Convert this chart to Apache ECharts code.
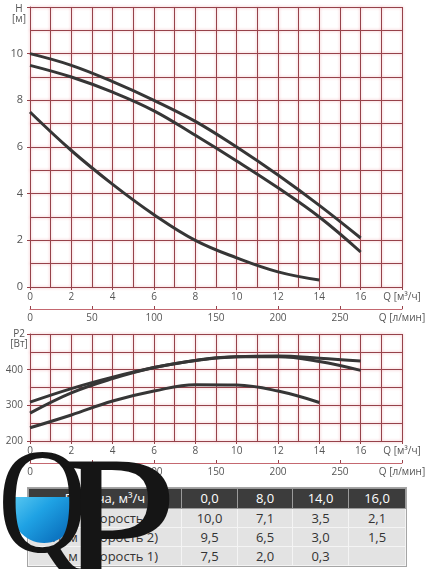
<!DOCTYPE html>
<html>
<head>
<meta charset="utf-8">
<script src="https://cdn.jsdelivr.net/npm/echarts@6/dist/echarts.min.js"></script>
<style>
html, body { margin: 0; padding: 0; background: #fff; }
#wrap { position: relative; width: 432px; height: 569px; overflow: hidden; }
#chart { position: absolute; left: 0; top: 0; width: 432px; height: 569px; z-index: 2; }
#tbl { position: absolute; left: 28px; top: 488px; z-index: 1; border-collapse: collapse;
  font-family: 'Open Sans', sans-serif; font-size: 13px; color: #333; outline: 1px solid #a5a5a5; }
#tbl td { border: 1px solid #f4f4f4; text-align: center; padding: 0; background: #e3e3e3; height: 18px; line-height: 17px; }
#tbl tr.head td { background: #3c3c3c; color: #fff; border-color: #9a9a9a; height: 19px; }
</style>
</head>
<body>
<div id="wrap">
  <table id="tbl"></table>
  <div id="chart"></div>
</div>
<script>
// Q-H curves, m3/h -> m
var flowH = [0, 2, 4, 6, 8, 10, 12, 14, 16];
var headSpeed3 = [10.0, 9.5, 8.8, 8.0, 7.1, 6.0, 4.8, 3.5, 2.1];
var headSpeed2 = [9.5, 9.0, 8.35, 7.55, 6.5, 5.4, 4.25, 3.0, 1.5];
var flowH1 = [0, 2, 4, 6, 8, 10, 12, 14];
var headSpeed1 = [7.5, 5.85, 4.4, 3.1, 2.0, 1.25, 0.65, 0.3];

// Q-P2 curves, m3/h -> W
var flowP = [0, 2, 4, 6, 8, 10, 12, 14, 16];
var powerSpeed3 = [309, 347, 379, 406, 426, 436, 438, 432, 424];
var powerSpeed2 = [278, 335, 375, 406, 426, 436, 436, 423, 398];
var flowP1 = [0, 2, 4, 6, 8, 10, 12, 14];
var powerSpeed1 = [237, 273, 312, 340, 358, 357, 340, 308];

// table
var tableHead = ['Подача, м³/ч', '0,0', '8,0', '14,0', '16,0'];
var rowSpeed3 = ['Н, м (Скорость 3)', '10,0', '7,1', '3,5', '2,1'];
var rowSpeed2 = ['Н, м (Скорость 2)', '9,5', '6,5', '3,0', '1,5'];
var rowSpeed1 = ['Н, м (Скорость 1)', '7,5', '2,0', '0,3', ''];
var colWidths = [152, 55, 54, 55, 56];

var tbl = document.getElementById('tbl');
[tableHead, rowSpeed3, rowSpeed2, rowSpeed1].forEach(function(row, i) {
	var tr = document.createElement('tr');
	if (i === 0) tr.className = 'head';
	row.forEach(function(txt, j) {
		var td = document.createElement('td');
		td.style.width = colWidths[j] + 'px';
		td.textContent = txt;
		tr.appendChild(td);
	});
	tbl.appendChild(tr);
});

function pairs(xs, ys) {
	return xs.map(function(x, i) { return [x, ys[i]]; });
}

var gridColor = '#96424a';
var font = 'Open Sans';
var gridLine = { color: gridColor, width: 1, shadowColor: 'rgba(225,110,120,0.6)', shadowBlur: 3 };

function m3Axis(gi) {
	return {
		type: 'value', gridIndex: gi, min: 0, max: 18, interval: 2, position: 'bottom',
		axisLine: { show: true, lineStyle: { color: gridColor } },
		axisTick: { show: true, length: 3, lineStyle: { color: gridColor } },
		axisLabel: { margin: 5, color: '#555', fontSize: 10, fontFamily: font, showMaxLabel: true,
			formatter: function(v) { return v === 18 ? 'Q [м³/ч]' : String(v); } },
		splitLine: { show: true, lineStyle: gridLine },
		minorTick: { show: false, splitNumber: 2 },
		minorSplitLine: { show: true, lineStyle: gridLine }
	};
}
function lminAxis(gi) {
	return {
		type: 'value', gridIndex: gi, min: 0, max: 300, interval: 50, position: 'bottom', offset: 22,
		axisLine: { show: true, lineStyle: { color: '#c46870' } },
		axisTick: { show: true, inside: true, length: 3, lineStyle: { color: gridColor } },
		axisLabel: { margin: 4, color: '#555', fontSize: 10, fontFamily: font, showMaxLabel: true,
			formatter: function(v) { return v === 300 ? 'Q [л/мин]' : String(v); } },
		splitLine: { show: false }
	};
}
function yAxis(gi, min, max, step, fs, name, gap) {
	return {
		type: 'value', gridIndex: gi, min: min, max: max, interval: step,
		axisLine: { show: true, lineStyle: { color: gridColor } },
		axisTick: { show: true, length: 3, lineStyle: { color: gridColor } },
		axisLabel: { margin: 7, color: '#555', fontSize: fs, fontFamily: font,
			formatter: function(v) { return v === max ? '' : String(v); } },
		splitLine: { show: true, lineStyle: gridLine },
		minorTick: { show: false, splitNumber: 2 },
		minorSplitLine: { show: true, lineStyle: gridLine },
		name: name, nameLocation: 'end', nameGap: gap,
		nameTextStyle: { color: '#555', fontSize: 10, fontFamily: font, lineHeight: 10,
			align: 'center', verticalAlign: 'top', padding: [0, 22, 0, 0] }
	};
}
function curve(xi, yi, xs, ys) {
	return {
		type: 'line', xAxisIndex: xi, yAxisIndex: yi, data: pairs(xs, ys),
		smooth: 0.4, symbol: 'none', silent: true,
		lineStyle: { color: '#363636', width: 3 }
	};
}

// water inside the logo Q
var water = [];
for (var a = -12; a <= 192; a += 6) {
	var t = a * Math.PI / 180;
	var py = 505 + 38 * Math.sin(t);
	if (py >= 490) water.push([44 + 34 * Math.cos(t), py]);
}

var chart = echarts.init(document.getElementById('chart'));
chart.setOption({
	animation: false,
	grid: [
		{ left: 30, right: 30, top: 7, height: 280 },
		{ left: 30, right: 30, top: 334, height: 107 }
	],
	xAxis: [m3Axis(0), lminAxis(0), m3Axis(1), lminAxis(1)],
	yAxis: [yAxis(0, 0, 12, 2, 11, 'H\n[м]', 3), yAxis(1, 200, 500, 100, 10, 'P2\n[Вт]', 5)],
	series: [
		curve(0, 0, flowH, headSpeed3),
		curve(0, 0, flowH, headSpeed2),
		curve(0, 0, flowH1, headSpeed1),
		curve(2, 1, flowP, powerSpeed3),
		curve(2, 1, flowP, powerSpeed2),
		curve(2, 1, flowP1, powerSpeed1)
	],
	graphic: [
		{ type: 'polygon', z: 100, shape: { points: water },
			style: { fill: { type: 'linear', x: 0, y: 0, x2: 0.6, y2: 1,
				colorStops: [{ offset: 0, color: '#5ccaf2' }, { offset: 0.5, color: '#1fa2e4' }, { offset: 1, color: '#0d76c2' }] } } },
		{ type: 'text', z: 101, x: -2, y: 438, scaleX: 0.82,
			style: { text: 'Q', font: '150px "Liberation Serif"', fill: '#151515', verticalAlign: 'top' } },
		{ type: 'text', z: 102, x: 56, y: 440, scaleX: 1.12,
			style: { text: 'P', font: '196px "Liberation Serif"', fill: '#151515', verticalAlign: 'top' } }
	]
});
</script>
</body>
</html>
